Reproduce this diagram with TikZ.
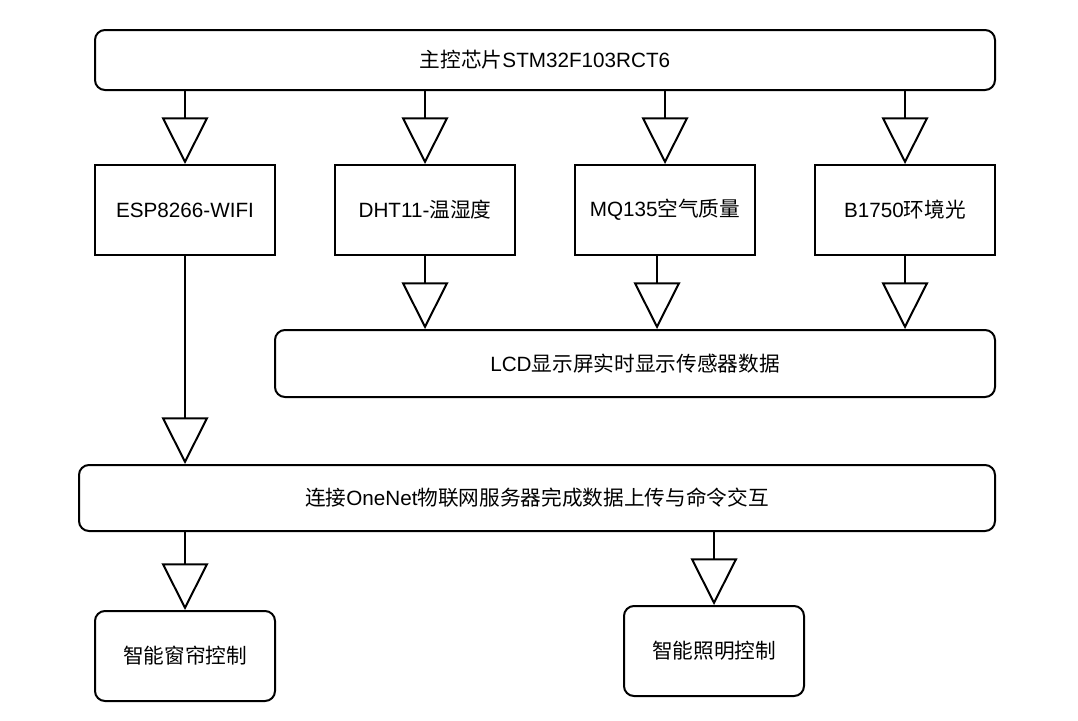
\documentclass[tikz,border=0pt]{standalone}
\usepackage{fontspec}
\setmainfont{Liberation Sans}
\newfontfamily\cjk{Noto Sans CJK SC}
\newcommand{\zh}[1]{{\cjk #1}}
\usetikzlibrary{arrows.meta}

\begin{document}
\begin{tikzpicture}[
    x=0.75pt, y=-0.75pt,
    font=\fontsize{15.5}{18}\selectfont,
    line width=1.5pt,
    stage/.style={draw, rounded corners=7.5pt, inner sep=0pt},
    unit/.style={draw, minimum width=135pt, minimum height=67.5pt, inner sep=0pt},
    arr/.style={-{Triangle[open, length=35pt, width=35pt]}},
  ]
  \useasboundingbox (0,0) rectangle (1078,721);

  \node[stage, minimum width=675pt, minimum height=45pt] (main) at (545,60)
    {\zh{主控芯片}STM32F103RCT6};

  \node[unit] (esp) at (185,210) {ESP8266-WIFI};
  \node[unit] (dht) at (425,210) {DHT11-\zh{温湿度}};
  \node[unit] (mq)  at (665,210) {MQ135\zh{空气质量}};
  \node[unit] (bh)  at (905,210) {B1750\zh{环境光}};

  \node[stage, minimum width=540pt, minimum height=50.25pt] (lcd) at (635,363.5)
    {LCD\zh{显示屏实时显示传感器数据}};

  \node[stage, minimum width=687pt, minimum height=49.5pt] (net) at (537,498)
    {\zh{连接}OneNet\zh{物联网服务器完成数据上传与命令交互}};

  \node[stage, minimum width=135pt, minimum height=67.5pt] (curtain) at (185,656)
    {\zh{智能窗帘控制}};
  \node[stage, minimum width=135pt, minimum height=67.5pt] (light) at (714,651)
    {\zh{智能照明控制}};

  % chip to modules
  \foreach \s in {esp,dht,mq,bh}
    \draw[arr] (main.south -| \s) -- (\s.north);

  % sensors to display
  \coordinate (mqout) at ([xshift=-6pt]mq.south);
  \draw[arr] (dht.south) -- (lcd.north -| dht);
  \draw[arr] (mqout) -- (lcd.north -| mqout);
  \draw[arr] (bh.south) -- (lcd.north -| bh);

  % wifi to cloud, cloud to actuators
  \draw[arr] (esp.south) -- (net.north -| esp);
  \draw[arr] (net.south -| curtain) -- (curtain.north);
  \draw[arr] (net.south -| light) -- (light.north);
\end{tikzpicture}
\end{document}
